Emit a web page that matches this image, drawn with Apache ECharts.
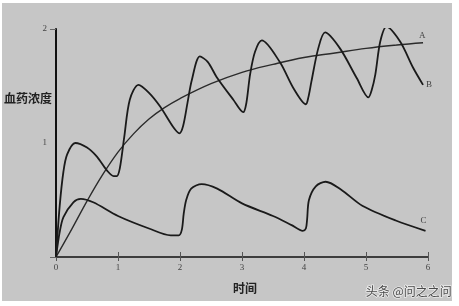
<!DOCTYPE html>
<html><head><meta charset="utf-8">
<script src="https://cdn.jsdelivr.net/npm/echarts@6/dist/echarts.min.js"></script>
<style>
html,body{margin:0;padding:0;background:#fff;}
#bg{position:absolute;left:2px;top:3px;width:450px;height:298px;background:#c6c6c6;}
#c{position:absolute;left:0;top:0;width:459px;height:306px;}
</style></head>
<body><div id="bg"></div><div id="c"></div>
<script>
// Time (x) and blood concentration (y) values
const timeA = [0,0.25,0.5,0.75,1,1.25,1.5,1.75,2,2.5,3,3.5,4,4.5,5,5.5,5.92];
const concA = [0,0.24,0.49,0.72,0.92,1.08,1.21,1.31,1.39,1.52,1.62,1.69,1.75,1.79,1.83,1.86,1.88];

const timeB = [0,0.06,0.12,0.18,0.31,0.5,0.66,0.82,0.93,0.98,1.03,1.1,1.19,1.33,1.5,1.68,1.89,1.99,2.05,2.12,2.19,2.32,2.45,2.59,2.86,3.02,3.07,3.13,3.21,3.32,3.61,3.83,4.03,4.07,4.12,4.23,4.34,4.58,4.85,5.04,5.09,5.15,5.23,5.33,5.55,5.76,5.92];
const concB = [0,0.45,0.75,0.9,1.0,0.96,0.88,0.76,0.71,0.71,0.78,1.05,1.38,1.51,1.44,1.32,1.14,1.085,1.15,1.35,1.55,1.76,1.71,1.58,1.38,1.27,1.35,1.6,1.8,1.9,1.71,1.48,1.34,1.4,1.54,1.83,1.97,1.83,1.57,1.40,1.46,1.6,1.89,2.02,1.89,1.66,1.51];

const timeC = [0,0.06,0.12,0.28,0.4,0.6,1,1.5,1.85,1.98,2.03,2.06,2.1,2.18,2.35,2.6,3,3.5,3.8,3.98,4.03,4.05,4.08,4.19,4.35,4.6,4.94,5.48,5.96];
const concC = [0,0.22,0.35,0.48,0.51,0.48,0.36,0.25,0.19,0.19,0.24,0.38,0.5,0.6,0.64,0.6,0.47,0.36,0.28,0.23,0.25,0.33,0.5,0.62,0.66,0.59,0.45,0.32,0.23];

const curveNames = ['A','B','C'];
const xTicks = ['0','1','2','3','4','5','6'];
const yTicks = ['', '1', '2'];
const yAxisTitle = '血药浓度';
const xAxisTitle = '时间';
const watermark = '头条 @问之之问';

function pairs(xs, ys){ return xs.map((x,i)=>[x, ys[i]]); }
const serif = 'Liberation Serif';
function endLab(name, offset){
  return {show:true, formatter:name, distance:2, offset:offset,
    fontFamily:serif, fontSize:9, color:'#444'};
}

const chart = echarts.init(document.getElementById('c'));
chart.setOption({
  backgroundColor:'transparent',
  animation:false,
  grid:{left:56, right:31, top:29, bottom:49},
  xAxis:[{
    type:'value', min:0, max:6, interval:1,
    axisLine:{show:true, lineStyle:{color:'#111', width:1.5}},
    axisTick:{show:true, length:4, lineStyle:{color:'#555'}},
    axisLabel:{formatter:(v)=>xTicks[Math.round(v)], fontFamily:serif, fontSize:9, color:'#444', margin:6},
    splitLine:{show:false}
  },{
    type:'value', min:0, max:6, interval:1, position:'bottom',
    axisLine:{show:false},
    axisTick:{show:true, inside:true, length:5, lineStyle:{color:'#555'}},
    axisLabel:{show:false}, splitLine:{show:false}
  }],
  yAxis:[{
    type:'value', min:0, max:2, interval:1,
    axisLine:{show:true, lineStyle:{color:'#111', width:2}},
    axisTick:{show:false},
    axisLabel:{formatter:(v)=>yTicks[Math.round(v)], fontFamily:serif, fontSize:9, color:'#444', margin:9},
    splitLine:{show:false}
  },{
    type:'value', min:0, max:2, interval:2, position:'left',
    axisLine:{show:false},
    axisTick:{show:true, length:6, lineStyle:{color:'#666'}},
    axisLabel:{show:false}, splitLine:{show:false}
  }],
  graphic:[
    {type:'text', left:4, top:92, style:{text:yAxisTitle, font:'bold 12px "Noto Sans CJK SC"', fill:'#222'}},
    {type:'text', left:233, top:282, style:{text:xAxisTitle, font:'bold 12px "Noto Sans CJK SC"', fill:'#222'}},
    {type:'text', left:365, top:285, style:{text:watermark, font:'12px "Noto Sans CJK SC"', fill:'#4a4a4a', stroke:'#ececec', lineWidth:1.5}}
  ],
  series:[
    {type:'line', name:'A', data:pairs(timeA, concA), smooth:0.4, symbol:'none',
      lineStyle:{color:'#2b2b2b', width:1.4}, endLabel:endLab(curveNames[0], [-6,-7])},
    {type:'line', name:'B', data:pairs(timeB, concB), smooth:0.3, symbol:'none',
      lineStyle:{color:'#1a1a1a', width:1.8}, endLabel:endLab(curveNames[1], [1,0])},
    {type:'line', name:'C', data:pairs(timeC, concC), smooth:0.3, symbol:'none',
      lineStyle:{color:'#1a1a1a', width:1.8}, endLabel:endLab(curveNames[2], [-7,-10])}
  ]
});
</script></body></html>
